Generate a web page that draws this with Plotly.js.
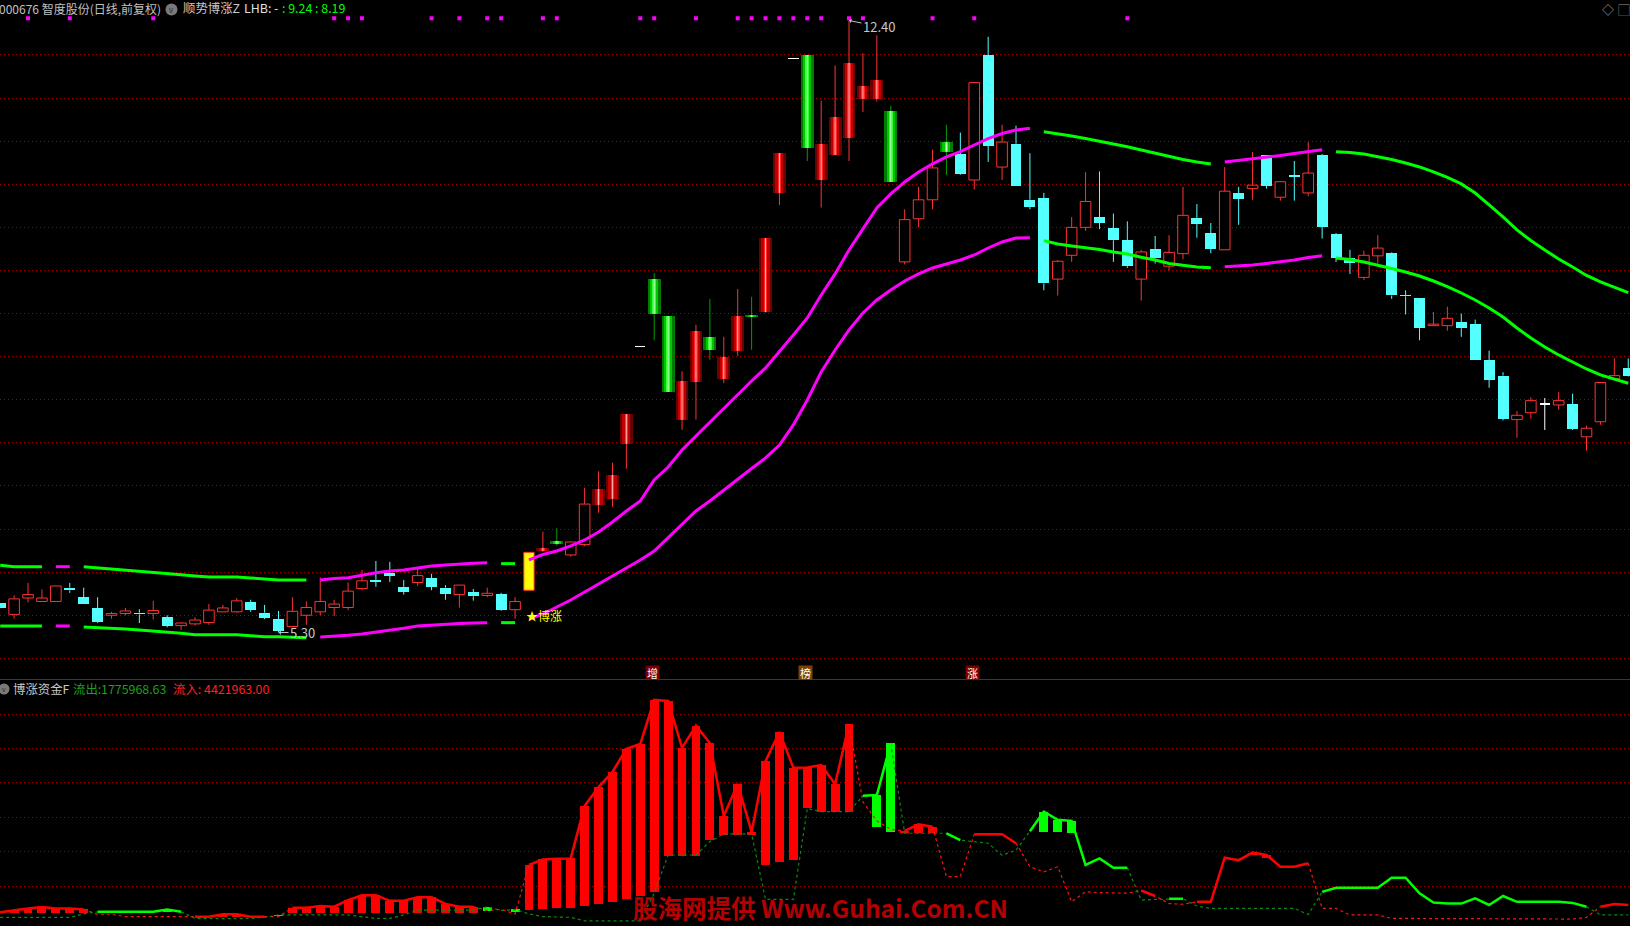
<!DOCTYPE html>
<html><head><meta charset="utf-8">
<script src="https://cdn.plot.ly/plotly-3.0.1.min.js"></script>
<style>html,body{margin:0;padding:0;background:#000;overflow:hidden}#chart{width:1630px;height:926px}</style>
</head><body><div id="chart"></div>
<script>
// ---------------- price panel data (index 0..117) ----------------
const open = [5.64,5.51,5.70,5.66,5.66,5.82,5.71,5.585,5.50,5.52,
 5.53,5.52,5.476,5.38,5.40,5.415,5.54,5.54,5.654,5.53,
 5.457,5.37,5.50,5.54,5.59,5.59,5.81,5.91,5.99,5.83,
 5.88,5.93,5.82,5.74,5.77,5.73,5.747,5.565,5.79,6.24,
 6.36,6.20,6.32,6.78,6.85,7.49,8.61,9.40,8.97,7.77,
 8.21,8.73,8.24,8.57,8.98,9.015,10.40,11.95,12.0,10.55,
 10.84,11.04,11.49,11.49,11.35,9.60,10.10,10.32,10.99,10.85,
 10.55,12.0,10.70,10.97,10.32,10.34,9.40,9.676,10.0,10.12,
 9.99,9.85,9.40,9.75,9.55,9.695,10.11,9.935,9.74,10.40,
 10.45,10.84,10.35,10.60,10.40,10.84,9.92,9.64,9.42,9.67,
 9.70,9.21,9.18,8.86,8.86,8.90,8.88,8.46,8.28,7.77,
 7.85,7.94,7.94,7.95,7.57,7.745,8.245,8.37];
const high = [5.64,5.73,5.875,5.80,5.84,5.875,5.82,5.71,5.54,5.585,
 5.57,5.667,5.50,5.42,5.476,5.63,5.62,5.70,5.68,5.62,
 5.55,5.71,5.66,5.94,5.68,5.88,6.025,6.13,6.12,5.91,
 6.04,5.98,5.85,5.85,5.805,5.82,5.76,5.71,6.23,6.47,
 6.51,6.35,6.98,7.17,7.27,7.835,8.61,9.47,8.97,8.33,
 8.87,9.17,8.73,9.285,9.195,9.875,10.86,11.95,12.0,11.47,
 11.88,12.40,12.02,12.23,11.41,10.21,10.47,10.90,11.19,11.10,
 11.68,12.21,11.19,11.18,10.86,10.40,9.62,10.12,10.64,10.65,
 10.16,10.07,9.74,9.90,9.91,10.47,10.27,10.05,10.70,10.47,
 10.875,10.84,10.53,10.77,10.99,10.85,9.935,9.74,9.73,9.91,
 9.71,9.27,9.18,9.02,9.08,9.0,8.93,8.57,8.32,7.87,
 8.03,8.02,8.09,8.07,7.70,8.20,8.48,8.48];
const low = [5.59,5.46,5.65,5.66,5.66,5.76,5.635,5.41,5.46,5.50,
 5.41,5.45,5.36,5.33,5.38,5.39,5.54,5.53,5.54,5.455,
 5.30,5.37,5.39,5.50,5.49,5.56,5.79,5.83,5.885,5.74,
 5.84,5.79,5.68,5.59,5.67,5.71,5.55,5.46,5.79,6.24,
 6.31,6.18,6.30,6.69,6.76,7.20,8.61,8.69,8.095,7.65,
 7.77,8.465,8.195,8.51,8.58,9.015,10.26,11.95,10.77,10.23,
 10.84,10.77,11.34,11.46,10.53,9.57,10.0,10.21,10.61,10.61,
 10.44,10.76,10.55,10.48,10.21,9.27,9.21,9.60,9.96,9.98,
 9.60,9.53,9.15,9.58,9.50,9.63,9.88,9.70,9.74,10.03,
 10.32,10.45,10.31,10.31,10.36,9.87,9.60,9.46,9.39,9.58,
 9.17,8.99,8.69,8.86,8.80,8.73,8.46,8.14,7.76,7.56,
 7.78,7.65,7.885,7.65,7.41,7.71,8.22,8.27];
const close = [5.59,5.69,5.74,5.70,5.84,5.79,5.635,5.42,5.52,5.55,
 5.51,5.556,5.38,5.41,5.445,5.56,5.585,5.667,5.56,5.47,
 5.32,5.546,5.59,5.66,5.63,5.78,5.90,5.89,5.96,5.775,
 5.96,5.83,5.75,5.85,5.72,5.755,5.56,5.66,6.23,6.285,
 6.33,6.35,6.79,6.965,7.13,7.835,8.61,9.00,8.095,8.22,
 8.80,8.58,8.50,8.97,8.96,9.875,10.86,11.95,10.925,10.97,
 11.28,11.91,11.64,11.71,10.53,10.09,10.32,10.69,10.88,10.62,
 11.68,10.95,10.99,10.48,10.24,9.35,9.607,10.0,10.30,10.055,
 9.85,9.55,9.715,9.64,9.71,10.14,10.04,9.75,10.42,10.33,
 10.49,10.48,10.53,10.59,10.63,10.01,9.65,9.59,9.676,9.76,
 9.21,9.20,8.83,8.87,8.945,8.83,8.46,8.23,7.78,7.82,
 7.99,7.94,7.99,7.665,7.67,8.20,8.28,8.28];
// candle drawing style: h=red hollow, c=cyan, R=red signal, G=green signal, Y=yellow signal, W=white
const candleStyle = "chhhhccchh chchhhhhcc chhhhhhccc hcchchchYR GhhRRRWGGR RGRRGRRWGR RRRRGhhhGc hchccchhhc cchchhcchc hchchccchh ccchhcccch hWhchhhc";
// channel lines
const upBand = [6.080,6.064,6.064,6.064,6.064,6.064,6.064,6.052,6.037,6.025,
 6.014,5.999,5.983,5.971,5.956,5.944,5.944,5.944,5.933,5.921,
 5.909,5.909,5.909,5.909,5.927,5.936,5.967,5.994,6.014,6.025,
 6.048,6.072,6.083,6.095,6.103,6.110,6.099,6.099,6.142,6.205,
 6.246,6.304,6.374,6.466,6.582,6.710,6.826,7.070,7.220,7.418,
 7.580,7.742,7.905,8.067,8.218,8.369,8.554,8.752,8.949,9.216,
 9.460,9.738,9.982,10.225,10.388,10.527,10.643,10.736,10.817,10.878,
 10.956,11.031,11.089,11.130,11.150,11.110,11.089,11.060,11.031,11.002,
 10.973,10.936,10.898,10.860,10.822,10.788,10.759,10.736,10.759,10.776,
 10.799,10.817,10.834,10.857,10.880,10.901,10.878,10.869,10.851,10.822,
 10.788,10.747,10.701,10.643,10.579,10.504,10.399,10.260,10.121,9.970,
 9.848,9.738,9.633,9.541,9.442,9.367,9.303,9.243];
const loBand = [5.376,5.376,5.376,5.376,5.376,5.376,5.364,5.359,5.353,5.341,
 5.329,5.318,5.306,5.291,5.275,5.275,5.275,5.275,5.263,5.252,
 5.252,5.248,5.240,5.248,5.254,5.268,5.283,5.303,5.329,5.349,
 5.376,5.388,5.399,5.405,5.411,5.414,5.414,5.414,5.454,5.515,
 5.596,5.677,5.770,5.863,5.956,6.049,6.141,6.246,6.397,6.548,
 6.710,6.826,6.954,7.081,7.203,7.325,7.475,7.708,7.998,8.322,
 8.578,8.810,9.007,9.158,9.274,9.378,9.460,9.529,9.576,9.622,
 9.680,9.761,9.831,9.877,9.881,9.846,9.807,9.784,9.764,9.744,
 9.715,9.691,9.653,9.622,9.581,9.558,9.541,9.533,9.544,9.552,
 9.564,9.581,9.599,9.622,9.651,9.672,9.645,9.628,9.599,9.564,
 9.523,9.483,9.436,9.378,9.314,9.239,9.158,9.065,8.960,8.833,
 8.717,8.612,8.520,8.438,8.357,8.288,8.235,8.191];
// g = falling (green), m = rising (magenta)
const bandState = "gggg mm ggggggggggggggggg mmmmmmmmmmmmm gg mmmmmmmmmmmmmmmmmmmmmmmmmmmmmmmmmmmmm ggggggggggggg mmmmmmmm gggggggggggggggggggggg";
const dotIdx = [2,5,11,24,25,26,31,33,35,36,39,40,46,47,50,53,54,55,56,57,58,59,61,62,67,70,81];
const markIdx = [47,58,70];
const markText = ["增","榜","涨"];
const signalIdx = 38;
const signalText = "★博涨";
const priceGrid = [5.0,5.5,6.0,6.5,7.0,7.5,8.0,8.5,9.0,9.5,10.0,10.5,11.0,11.5,12.0];

// ---------------- fund-flow panel data ----------------
const inflow = [0.25,0.31,0.36,0.40,0.36,0.36,0.33,0.19,0.19,0.12,
 0.12,0.12,0.12,0.12,0.12,0.12,0.19,0.19,0.12,0.12,
 0.12,0.38,0.38,0.43,0.41,0.60,0.74,0.74,0.58,0.58,
 0.68,0.68,0.49,0.41,0.41,0.30,0.33,0.20,1.62,1.78,
 1.80,1.81,3.34,3.88,4.32,4.99,5.13,6.41,6.38,5.02,
 5.66,5.16,3.04,3.97,2.58,4.63,5.48,4.44,4.45,4.52,
 3.97,5.70,3.45,2.90,2.65,2.61,2.80,2.73,1.28,1.28,
 2.51,2.51,2.51,2.25,1.57,1.42,1.57,0.55,0.84,0.82,
 0.80,0.80,0.88,0.72,0.50,0.48,0.55,0.55,1.83,1.76,
 1.98,1.91,1.57,1.57,1.67,0.36,0.36,0.17,0.17,0.17,
 0.07,0.07,0.06,0.06,0.05,0.05,0.05,0.05,0.05,0.05,
 0.05,0.05,0.05,0.05,0.10,0.41,0.49,0.46];
const outflow = [0.10,0.10,0.10,0.10,0.10,0.10,0.20,0.26,0.26,0.26,
 0.26,0.26,0.33,0.26,0.07,0.07,0.06,0.06,0.07,0.10,
 0.17,0.17,0.17,0.17,0.17,0.17,0.12,0.07,0.07,0.17,
 0.31,0.31,0.31,0.31,0.31,0.41,0.30,0.33,0.20,0.12,
 0.12,0.10,0.00,0.00,0.00,0.00,0.00,0.80,1.91,1.91,
 1.91,2.30,2.52,2.52,2.52,0.62,0.62,0.62,3.26,3.17,
 3.17,3.17,3.63,3.65,5.15,2.54,2.54,2.54,2.54,2.34,
 2.30,2.25,1.90,2.05,2.60,3.17,2.93,2.90,1.62,1.81,
 1.54,1.54,0.60,0.62,0.64,0.64,0.43,0.36,0.36,0.36,
 0.36,0.36,0.36,0.36,0.18,0.84,0.96,0.96,0.96,0.96,
 1.25,1.25,0.80,0.53,0.50,0.50,0.65,0.46,0.72,0.55,
 0.55,0.55,0.55,0.52,0.41,0.17,0.17,0.17];
const stickLow = [0.22,0.22,0.22,0.22,0.22,0.22,0.22,null,null,null,
 null,null,0.26,null,null,null,0.12,0.12,null,null,
 0.13,0.22,0.22,0.22,0.22,0.22,0.22,0.22,0.22,0.22,
 0.22,0.22,0.22,0.22,0.22,0.29,null,0.26,0.31,0.33,
 0.36,0.38,0.43,0.50,0.55,0.64,0.73,0.84,1.89,1.89,
 1.89,2.35,2.49,2.50,2.50,1.63,1.72,1.76,3.28,3.17,
 3.17,3.17,null,2.71,2.59,2.54,2.54,2.54,null,null,
 null,null,null,null,null,2.59,2.59,2.55,null,null,
 null,null,null,null,null,null,null,null,null,null,
 1.90,1.83,null,null,null,null,null,null,null,null,
 null,null,null,null,null,null,null,null,null,null,
 null,null,null,null,null,null,null,null];
const flowGrid = [1,2,3,4,5,6];
const outflowLabel = "1775968.63";
const inflowLabel = "4421963.00";

// ---------------- build ----------------
const N = open.length;
const idx = Array.from({length:N}, (_, i) => i);
const sty = candleStyle.replace(/\s/g, "").split("");
const bst = bandState.replace(/\s/g, "").split("");
const MIN_BODY = 0.018;
const F = "Noto Sans CJK SC, Noto Sans, sans-serif";
const FS = 12.4;
const top_ = i => Math.max(open[i], close[i]);
const bot_ = i => Math.min(open[i], close[i]);
const base0 = {hoverinfo: "skip", showlegend: false};

function body(st, width, color, lineColor, lineWidth) {
  return Object.assign({type: "bar", x: idx,
    base: idx.map(i => st.includes(sty[i]) ? bot_(i) : null),
    y: idx.map(i => st.includes(sty[i]) ? Math.max(top_(i) - bot_(i), MIN_BODY) : null),
    width: width, marker: {color: color, line: {color: lineColor || color, width: lineWidth || 0}},
    xaxis: "x", yaxis: "y"}, base0);
}
function wick(st, color) {
  const xs = [], ys = [];
  idx.forEach(i => {
    if (!st.includes(sty[i])) return;
    if (high[i] > top_(i)) { xs.push(i, i, null); ys.push(high[i], top_(i), null); }
    if (low[i] < bot_(i)) { xs.push(i, i, null); ys.push(bot_(i), low[i], null); }
  });
  return Object.assign({type: "scatter", mode: "lines", x: xs, y: ys, line: {color: color, width: 1}, xaxis: "x", yaxis: "y"}, base0);
}
function centerLine(st, color) {
  const xs = [], ys = [];
  idx.forEach(i => { if (st.includes(sty[i])) { xs.push(i, i, null); ys.push(bot_(i), bot_(i) + Math.max(top_(i) - bot_(i), MIN_BODY), null); } });
  return Object.assign({type: "scatter", mode: "lines", x: xs, y: ys, line: {color: color, width: 1}, xaxis: "x", yaxis: "y"}, base0);
}
function bands(vals) {
  const out = []; let s = 0;
  for (let i = 1; i <= N; i++) {
    if (i === N || bst[i] !== bst[s]) {
      out.push(Object.assign({type: "scatter", mode: "lines", x: idx.slice(s, i), y: vals.slice(s, i),
        line: {color: bst[s] === "m" ? "#ff00ff" : "#00ff00", width: 3}, xaxis: "x", yaxis: "y"}, base0));
      s = i;
    }
  }
  return out;
}

const traces = [];
traces.push(body("h", 0.76, "#000000", "#ff3232", 1));
traces.push(body("c", 0.79, "#54ffff"));
traces.push(body("R", 0.92, "#6a0000"));
traces.push(body("R", 0.58, "#c00000"));
traces.push(body("R", 0.26, "#ff2424"));
traces.push(body("G", 0.92, "#007a00"));
traces.push(body("G", 0.58, "#00c800"));
traces.push(body("G", 0.26, "#30ff30"));
traces.push(body("Y", 0.74, "#ffff00", "#ff3232", 1));
traces.push(body("W", 0.74, "#ffffff"));
traces.push(wick("hRY", "#ff3232"));
traces.push(wick("c", "#54ffff"));
traces.push(wick("G", "#00a000"));
traces.push(wick("W", "#ffffff"));
traces.push(centerLine("R", "#ffb4b4"));
traces.push(centerLine("G", "#c8ffc8"));
bands(upBand).forEach(t => traces.push(t));
bands(loBand).forEach(t => traces.push(t));

// fund flow panel
const redDom = i => inflow[i] >= outflow[i];
const greenDom = i => !redDom(i);
traces.push(Object.assign({type: "bar", x: idx,
  base: idx.map(i => stickLow[i] !== null && redDom(i) ? stickLow[i] : null),
  y: idx.map(i => stickLow[i] !== null && redDom(i) ? inflow[i] - stickLow[i] : null),
  width: 0.64, marker: {color: "#ff0000", line: {width: 0}}, xaxis: "x2", yaxis: "y2"}, base0));
traces.push(Object.assign({type: "bar", x: idx,
  base: idx.map(i => stickLow[i] !== null && greenDom(i) ? stickLow[i] : null),
  y: idx.map(i => stickLow[i] !== null && greenDom(i) ? outflow[i] - stickLow[i] : null),
  width: 0.64, marker: {color: "#00ff00", line: {width: 0}}, xaxis: "x2", yaxis: "y2"}, base0));
function nearOther(test, i) { return test(i) || (i > 0 && test(i - 1)) || (i < N - 1 && test(i + 1)); }
traces.push(Object.assign({type: "scatter", mode: "lines", x: idx,
  y: idx.map(i => nearOther(greenDom, i) ? inflow[i] : null),
  line: {color: "#ff1010", width: 1.2, dash: "3px,3px"}, xaxis: "x2", yaxis: "y2"}, base0));
traces.push(Object.assign({type: "scatter", mode: "lines", x: idx,
  y: idx.map(i => nearOther(redDom, i) ? outflow[i] : null),
  line: {color: "#0a8a0a", width: 1.2, dash: "3px,3px"}, xaxis: "x2", yaxis: "y2"}, base0));
traces.push(Object.assign({type: "scatter", mode: "lines", x: idx,
  y: idx.map(i => redDom(i) ? inflow[i] : null),
  line: {color: "#ff0000", width: 2.5}, xaxis: "x2", yaxis: "y2"}, base0));
traces.push(Object.assign({type: "scatter", mode: "lines", x: idx,
  y: idx.map(i => greenDom(i) ? outflow[i] : null),
  line: {color: "#00ff00", width: 2.5}, xaxis: "x2", yaxis: "y2"}, base0));

// top marker dots
traces.push(Object.assign({type: "scatter", mode: "markers", x: dotIdx, y: dotIdx.map(() => 12.426),
  marker: {symbol: "square", size: 4, color: "#ff00ff", line: {width: 0}}, cliponaxis: false, xaxis: "x", yaxis: "y"}, base0));

// ---------------- annotations ----------------
const W = 1630, H = 926;
const px = x => x / W, py = y => 1 - y / H;
let iMax = 0, iMin = 0;
idx.forEach(i => { if (high[i] > high[iMax]) iMax = i; if (low[i] < low[iMin]) iMin = i; });
function txt(x, y, text, color, size, extra) {
  return Object.assign({xref: "paper", yref: "paper", x: px(x), y: py(y), xanchor: "left", yanchor: "middle",
    text: text, showarrow: false, font: {family: F, size: size || FS, color: color}}, extra || {});
}
const ann = [
  txt(-3, 8.5, "000676 智度股份(日线,前复权)", "#c0c0c0", 12),
  txt(171.5, 9, "v", "#2a2a2a", 8, {xanchor: "center"}),
  txt(181, 8.5, "顺势博涨Z", "#c8c8c8"),
  txt(242, 8.5, "LHB: -", "#e0e0e0"),
  txt(280, 8.5, ": " + upBand[N - 1].toFixed(2) + " : " + loBand[N - 1].toFixed(2), "#00ff00"),
  txt(1608, 9, "◇", "#9a9a9a", 12, {xanchor: "center"}),
  txt(1624, 9, "▢", "#9a9a9a", 12, {xanchor: "center"}),
  txt(4, 689, "v", "#2a2a2a", 7, {xanchor: "center"}),
  txt(11, 689, "博涨资金F", "#c8c8c8"),
  txt(70.5, 689, "流出:", "#1f9f1f"),
  txt(99, 689, outflowLabel, "#1f9f1f"),
  txt(171, 689, "流入:", "#ff2020"),
  txt(202, 689, inflowLabel, "#ff2020"),
  {xref: "x", yref: "y", x: iMax, y: high[iMax], text: high[iMax].toFixed(2), showarrow: true,
   ax: 30, ay: 6, arrowhead: 1, arrowsize: 0.8, arrowwidth: 1, arrowcolor: "#c0c0c0", standoff: 0,
   font: {family: F, size: 13, color: "#c8c8c8"}},
  {xref: "x", yref: "y", x: iMin, y: low[iMin], text: low[iMin].toFixed(2), showarrow: true,
   ax: 24, ay: 0, arrowhead: 1, arrowsize: 0.8, arrowwidth: 1, arrowcolor: "#c0c0c0", standoff: 0,
   font: {family: F, size: 13, color: "#c8c8c8"}},
  {xref: "x", yref: "y", x: signalIdx, y: loBand[signalIdx], yshift: 4, xshift: -5, xanchor: "left", yanchor: "middle",
   text: signalText, showarrow: false, font: {family: F, size: 12, color: "#ffff00"}},
  {xref: "paper", yref: "paper", x: px(820.5), y: py(907), xanchor: "center", yanchor: "middle",
   text: "<b>股海网提供 Www.Guhai.Com.CN</b>", showarrow: false, font: {family: F, size: 24.5, color: "#b40000"}}
];
markIdx.forEach((m, k) => ann.push({xref: "x", yref: "y", x: m, y: 4.836, xshift: -2, text: markText[k], showarrow: false,
  width: 13, height: 13, borderpad: 0, bgcolor: k === 1 ? "#7a4400" : "#7a0000",
  font: {family: F, size: 11, color: "#ffffff"}}));

// round gray header icons
const icon = (cx, cy, r) => ({type: "circle", xref: "paper", yref: "paper", x0: px(cx - r), x1: px(cx + r),
  y0: py(cy + r), y1: py(cy - r), fillcolor: "#7a7a7a", line: {width: 0}, layer: "above"});

const split = 246 / 926;
const gridAxis = {showticklabels: false, ticks: "", zeroline: false, showline: false,
  gridcolor: "#a80000", gridwidth: 1, griddash: "1px,3px", tickmode: "array"};
const layout = {
  width: W, height: H, margin: {l: 0, r: 0, t: 0, b: 0, pad: 0},
  paper_bgcolor: "#000000", plot_bgcolor: "#000000",
  barmode: "overlay", bargap: 0, showlegend: false, hovermode: false,
  xaxis: {domain: [0, 1], range: [-0.01437, 117.1254], anchor: "y", visible: false, fixedrange: true},
  yaxis: Object.assign({domain: [split, 1], range: [4.749, 12.638], tickvals: priceGrid, anchor: "x", fixedrange: true}, gridAxis),
  xaxis2: {domain: [0, 1], range: [-0.01437, 117.1254], anchor: "y2", showgrid: false, zeroline: false,
    showticklabels: false, ticks: "", showline: true, mirror: true, linecolor: "#c00000", linewidth: 1.5, fixedrange: true},
  yaxis2: Object.assign({domain: [0, split], range: [-0.151, 6.988], tickvals: flowGrid, anchor: "x2", fixedrange: true}, gridAxis),
  shapes: [icon(171.5, 9.5, 6), icon(4, 689, 5.5)],
  annotations: ann
};
Plotly.newPlot("chart", traces, layout, {staticPlot: true, displayModeBar: false});
</script></body></html>
